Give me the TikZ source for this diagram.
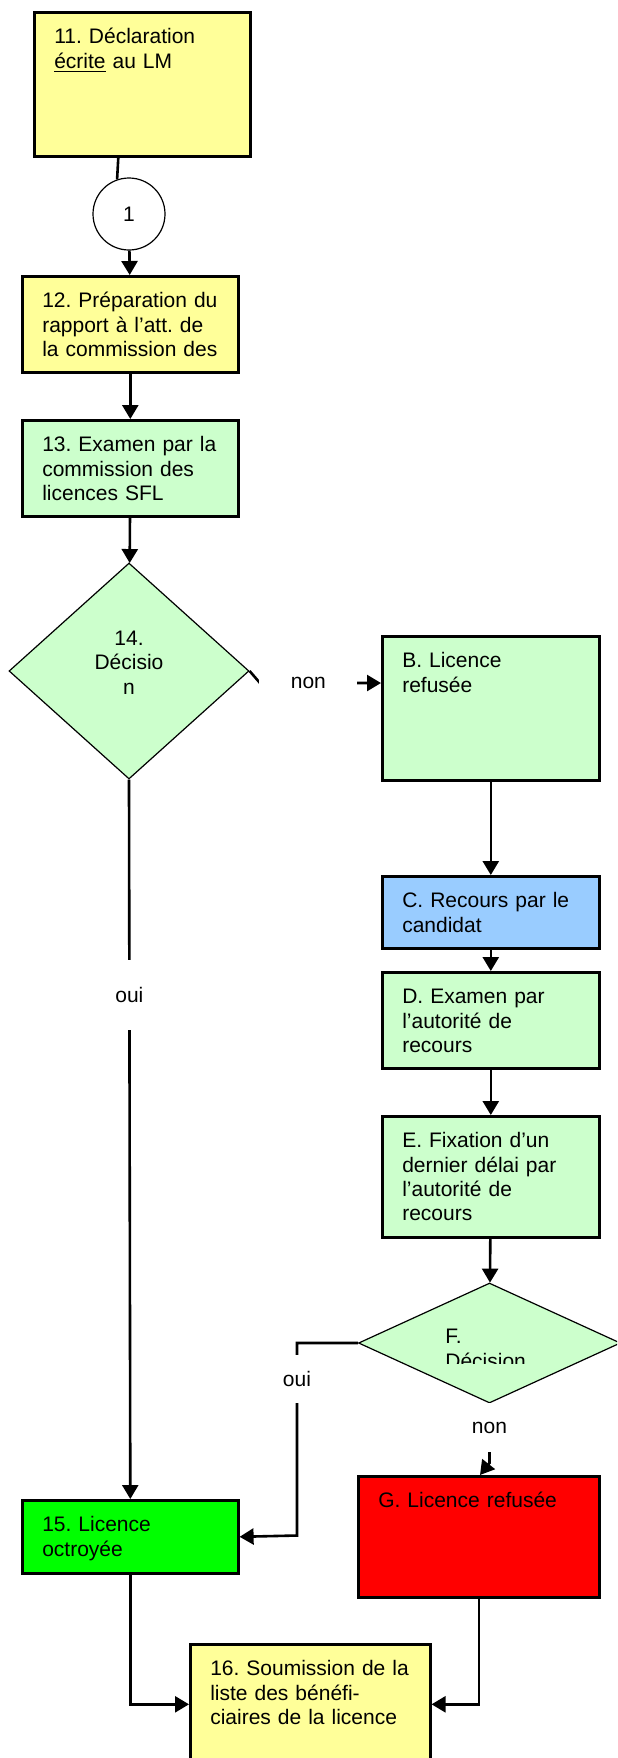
\documentclass[tikz,border=0pt]{standalone}
\usepackage{fontspec}
\setmainfont{Liberation Sans}
\usetikzlibrary{arrows.meta, shapes.geometric}
\definecolor{lyellow}{HTML}{FFFF99}
\definecolor{lgreen}{HTML}{CCFFCC}
\definecolor{lblue}{HTML}{99CCFF}
\definecolor{fgreen}{HTML}{00FF00}
\definecolor{fred}{HTML}{FF0000}
\frenchspacing
\tikzset{procbox/.style 2 args={
    draw, line width=1.3pt, anchor=north west, align=left,
    inner xsep=10pt, inner ysep=8pt,
    text width=#1, text height=7.7pt, text depth=#2
  },
  decision/.style={diamond, draw, line width=0.6pt, fill=lgreen, inner sep=0pt},
  conn/.style={line width=1.3pt},
  arr/.style={line width=1.3pt, -{Triangle[length=7pt,width=8pt]}},
  gap/.style={fill=white, inner sep=0pt}
}

\begin{document}
\begin{tikzpicture}[x=0.5pt, y=-0.5pt, font=\fontsize{10.5}{12.15}\selectfont\frenchspacing]
      \useasboundingbox (0,0) rectangle (617,1758);
      \clip (0,0) rectangle (617,1758);
      % left column
      \node[procbox={88pt}{48.3pt}, fill=lyellow] (b11) at (33,11) {11. Déclaration\\\underline{écrite} au LM};
      \node[circle, draw, line width=0.6pt, minimum size=36pt, inner sep=0pt] (c1) at (129,214) {1};
      \node[procbox={88pt}{24.3pt}, fill=lyellow] (b12) at (21,275) {12. Préparation du\\rapport à l’att. de\\la commission des};
      \node[procbox={88pt}{24.3pt}, fill=lgreen] (b13) at (21,419) {13. Examen par la\\commission des\\licences SFL};
      \node[decision, minimum width=120pt, minimum height=108pt] (d14) at (129,671) {};
      \node[align=center, inner sep=0pt] (t14) at (129,662.5) {14.\\Décisio\\n};
      \node[procbox={88pt}{12.8pt}, fill=fgreen] (b15) at (21,1499) {15. Licence\\octroyée};
      % right column
      \node[procbox={88.5pt}{48.3pt}, fill=lgreen] (bB) at (381,635) {B. Licence\\refusée};
      \node[procbox={88.5pt}{12.3pt}, fill=lblue] (bC) at (381,875) {C. Recours par le\\candidat};
      \node[procbox={88.5pt}{24.3pt}, fill=lgreen] (bD) at (381,971) {D. Examen par\\l’autorité de\\recours};
      \node[procbox={88.5pt}{36.8pt}, fill=lgreen] (bE) at (381,1115) {E. Fixation d’un\\dernier délai par\\l’autorité de\\recours};
      \node[decision, minimum width=131pt, minimum height=60pt] (dF) at (489.5,1343) {};
      \begin{scope}
        \clip (400,1320) rectangle (560,1363);
        \node[align=left, anchor=north west, inner sep=0pt] (tF) at (445,1329) {F.\\Décision};
      \end{scope}
      \node[procbox={100.5pt}{36.8pt}, fill=fred] (bG) at (357,1475) {G. Licence refusée};
      \node[procbox={100pt}{36.3pt}, fill=lyellow] (b16) at (189,1643) {16. Soumission de la\\liste des bénéfi-\\ciaires de la licence};
      % connectors
      \coordinate (k14) at (260,683);
      \coordinate (kF) at (297,1535.5);
      \coordinate (stemF) at (489.5,1463);
      \coordinate (tipG) at (480,1475);
      \draw[conn] ([xshift=-12pt]b11.south) -- (c1.109.5);
      \draw[arr] (c1) -- (b12);
      \draw[arr] (b12) -- (b13);
      \draw[arr] (b13) -- (d14);
      \draw[arr] (d14.east) -- (k14) -- node[gap, pos=0.4, minimum width=49pt, minimum height=12pt]{non} (k14 -| bB.west);
      \draw[arr] (d14.south) -- node[gap, pos=0.3, minimum height=35pt]{oui} (b15.north);
      \draw[arr] (bB) -- (bC);
      \draw[arr] (bC) -- (bD);
      \draw[arr] (bD) -- (bE);
      \draw[arr] (bE) -- (dF);
      \draw[arr] (dF.west) -| node[gap, pos=0.594, minimum height=24pt]{oui} (kF) -- (b15.east);
      \draw[arr] (dF.south) -- node[gap, pos=0.41, minimum height=24.5pt]{non} (stemF) -- (tipG);
      \draw[arr] (b15.south) |- (b16.west);
      \draw[arr] (bG.south) |- (b16.east);
\end{tikzpicture}
\end{document}
